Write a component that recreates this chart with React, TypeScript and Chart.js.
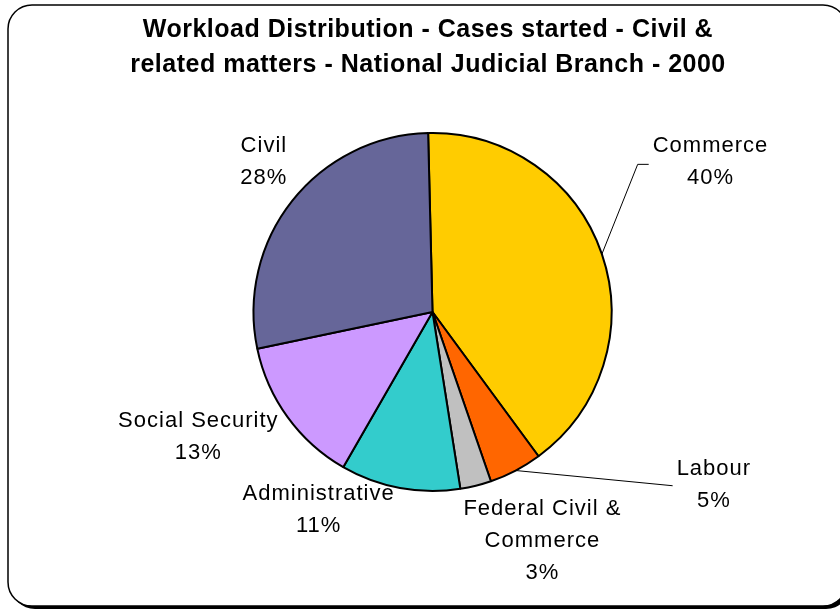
import React, { useEffect, useRef } from "react";
import { Chart, registerables } from "chart.js";

Chart.register(...registerables);

const categories = ["Commerce", "Labour", "Federal Civil & Commerce", "Administrative", "Social Security", "Civil"];
const labelLines = [["Commerce"], ["Labour"], ["Federal Civil &", "Commerce"], ["Administrative"], ["Social Security"], ["Civil"]];
const values = [40.3, 4.8, 2.8, 10.8, 13.4, 27.9];
const colors = ["#FFCC00", "#FF6600", "#C0C0C0", "#33CCCC", "#CC99FF", "#666699"];
const titleLines = ["Workload Distribution - Cases started - Civil &", "related matters - National Judicial Branch - 2000"];

// label block centres, in units of the pie radius, relative to the pie centre
const labelPlacement = [
  { dx: 1.553, dy: -0.836, leader: "elbow" },
  { dx: 1.572, dy: 0.965, leader: "straight" },
  { dx: 0.614, dy: 1.28, leader: "none" },
  { dx: -0.636, dy: 1.105, leader: "none" },
  { dx: -1.308, dy: 0.7, leader: "none" },
  { dx: -0.942, dy: -0.836, leader: "none" },
];

const overlay = {
  id: "overlay",
  beforeDraw(chart: any) {
    const ctx = chart.ctx;
    ctx.save();
    // frame with shadow
    const x = 8, y = 5, w = 839, h = 601, r = 24;
    ctx.fillStyle = "#000";
    ctx.beginPath();
    ctx.roundRect(x + 3, y + 3, w, h, r);
    ctx.fill();
    ctx.fillStyle = "#fff";
    ctx.strokeStyle = "#000";
    ctx.lineWidth = 1.5;
    ctx.beginPath();
    ctx.roundRect(x, y, w, h, r);
    ctx.fill();
    ctx.stroke();
    // title
    ctx.fillStyle = "#000";
    ctx.font = "bold 25px 'Liberation Sans', Arial, sans-serif";
    (ctx as any).letterSpacing = "0.5px";
    ctx.textAlign = "center";
    ctx.textBaseline = "alphabetic";
    ctx.fillText(titleLines[0], 428, 37);
    ctx.fillText(titleLines[1], 428, 72);
    ctx.restore();
  },
  afterDraw(chart: any) {
    const ctx = chart.ctx;
    const meta = chart.getDatasetMeta(0);
    const total = values.reduce((a, b) => a + b, 0);
    ctx.save();
    ctx.font = "22px 'Liberation Sans', Arial, sans-serif";
    (ctx as any).letterSpacing = "1px";
    ctx.textAlign = "center";
    ctx.textBaseline = "middle";
    ctx.fillStyle = "#000";
    const lineH = 32;
    meta.data.forEach((arc: any, i: number) => {
      const { x: cx, y: cy, outerRadius, startAngle, endAngle } = arc.getProps(["x", "y", "outerRadius", "startAngle", "endAngle"], true);
      const p = labelPlacement[i];
      const bx = cx + p.dx * outerRadius;
      const by = cy + p.dy * outerRadius;
      const lines = [...labelLines[i], Math.round((values[i] / total) * 100) + "%"];
      const top = by - ((lines.length - 1) * lineH) / 2;
      lines.forEach((t, k) => ctx.fillText(t, bx, top + k * lineH));
      if (p.leader !== "none") {
        const widest = Math.max(...labelLines[i].map((t) => ctx.measureText(t).width));
        const left = bx - widest / 2;
        const mid = (startAngle + endAngle) / 2;
        const sx = cx + Math.cos(mid) * outerRadius;
        const sy = cy + Math.sin(mid) * outerRadius;
        ctx.strokeStyle = "#000";
        ctx.lineWidth = 1;
        ctx.beginPath();
        ctx.moveTo(sx, sy);
        if (p.leader === "elbow") {
          ctx.lineTo(left - 15, by + 2);
          ctx.lineTo(left - 4, by + 2);
        } else {
          ctx.lineTo(left - 4, by + 1);
        }
        ctx.stroke();
      }
    });
    ctx.restore();
  },
};

export default function App() {
  const ref = useRef<HTMLCanvasElement>(null);
  useEffect(() => {
    document.body.style.margin = "0";
    const chart = new Chart(ref.current!, {
      type: "pie",
      data: {
        labels: categories,
        datasets: [
          {
            data: values,
            backgroundColor: colors,
            borderColor: "#000",
            borderWidth: 2,
          },
        ],
      },
      options: {
        responsive: false,
        animation: false,
        rotation: -1.4,
        layout: { padding: { top: 132, bottom: 120, left: 252, right: 227 } },
        plugins: { legend: { display: false }, title: { display: false }, tooltip: { enabled: false } },
      },
      plugins: [overlay],
    });
    return () => chart.destroy();
  }, []);
  return (
    <div style={{ position: "absolute", left: 0, top: 0, width: 840, height: 612 }}>
      <canvas ref={ref} width={840} height={612} />
    </div>
  );
}
